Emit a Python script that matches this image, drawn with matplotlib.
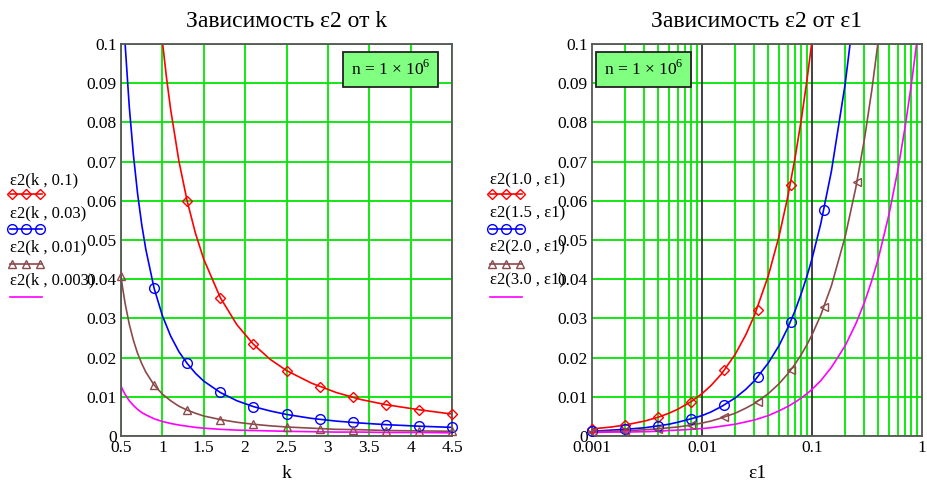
import matplotlib.pyplot as plt
from matplotlib.lines import Line2D
from matplotlib.ticker import FixedLocator, NullFormatter

plt.rcParams['font.family'] = ['Liberation Serif', 'DejaVu Serif']
plt.rcParams['mathtext.fontset'] = 'custom'
plt.rcParams['mathtext.rm'] = 'Liberation Serif'

# ---------- left panel: eps2 vs k ----------
k_red = [0.9, 0.95, 1.0, 1.05, 1.1, 1.2, 1.3, 1.4, 1.5, 1.7, 1.9, 2.1, 2.3, 2.5,
         2.8, 3.1, 3.4, 3.7, 4.1, 4.5]
e2_red = [0.1242, 0.1115, 0.1007, 0.0914, 0.0833, 0.0701, 0.0599, 0.0517, 0.0451,
          0.0353, 0.0284, 0.0234, 0.0196, 0.0167, 0.0135, 0.0111, 0.0093, 0.0080,
          0.0067, 0.0056]
k_all = [0.5, 0.52, 0.55, 0.6, 0.65, 0.7, 0.75, 0.8, 0.9, 1.0, 1.1, 1.2, 1.3, 1.4,
         1.5, 1.7, 1.9, 2.1, 2.3, 2.5, 2.8, 3.1, 3.4, 3.7, 4.1, 4.5]
e2_blue = [0.1207, 0.1116, 0.0999, 0.0840, 0.0717, 0.0619, 0.0540, 0.0476, 0.0377,
           0.0307, 0.0255, 0.0215, 0.0185, 0.0160, 0.0140, 0.0111, 0.0090, 0.0075,
           0.0064, 0.0055, 0.0045, 0.0038, 0.0033, 0.0029, 0.0025, 0.0022]
e2_brown = [0.0407, 0.0377, 0.0338, 0.0285, 0.0244, 0.0211, 0.0185, 0.0163, 0.0130,
            0.0107, 0.0090, 0.0076, 0.0066, 0.0058, 0.0051, 0.0042, 0.0035, 0.0030,
            0.0026, 0.0023, 0.0020, 0.0017, 0.0016, 0.0014, 0.0013, 0.0012]
e2_mag = [0.0127, 0.0118, 0.0106, 0.0090, 0.0078, 0.0068, 0.0060, 0.0054, 0.0044,
          0.0037, 0.0032, 0.0028, 0.0025, 0.0022, 0.0020, 0.0017, 0.0015, 0.0014,
          0.0013, 0.0012, 0.0011, 0.0010, 0.0010, 0.0009, 0.0009, 0.0008]

mk_k_red = [1.3, 1.7, 2.1, 2.5, 2.9, 3.3, 3.7, 4.1, 4.5]
mk_red = [0.0599, 0.0353, 0.0234, 0.0167, 0.0126, 0.0099, 0.0080, 0.0067, 0.0056]
mk_k_blue = [0.9, 1.3, 1.7, 2.1, 2.5, 2.9, 3.3, 3.7, 4.1, 4.5]
mk_blue = [0.0377, 0.0185, 0.0111, 0.0075, 0.0055, 0.0043, 0.0035, 0.0029, 0.0025, 0.0022]
mk_k_brown = [0.5, 0.9, 1.3, 1.7, 2.1, 2.5, 2.9, 3.3, 3.7, 4.1, 4.5]
mk_brown = [0.0407, 0.0130, 0.0066, 0.0042, 0.0030, 0.0023, 0.0019, 0.0016, 0.0014,
            0.0013, 0.0012]

# ---------- right panel: eps2 vs eps1 ----------
e1 = [0.001, 0.0015, 0.002, 0.003, 0.004, 0.005, 0.006, 0.008, 0.01, 0.012, 0.015,
      0.02, 0.025, 0.03, 0.04, 0.05, 0.06, 0.07, 0.08, 0.09, 0.1, 0.12, 0.15, 0.2,
      0.25, 0.3, 0.35, 0.4, 0.5, 0.6, 0.7, 0.8, 0.9, 1.0]
r_red = [0.0018, 0.0023, 0.0028, 0.0038, 0.0048, 0.0058, 0.0068, 0.0088, 0.0108,
         0.0128, 0.0158, 0.0208, 0.0258, 0.0308, 0.0408, 0.0508, 0.0608, 0.0708,
         0.0808, 0.0908, 0.1008]
r_blue = [0.0012, 0.0015, 0.0017, 0.0021, 0.0026, 0.0030, 0.0035, 0.0044, 0.0052,
          0.0061, 0.0075, 0.0097, 0.0119, 0.0141, 0.0186, 0.0230, 0.0275, 0.0319,
          0.0364, 0.0408, 0.0452, 0.0541, 0.0675, 0.0897, 0.1119]
r_brown = [0.0011, 0.0012, 0.0013, 0.0016, 0.0018, 0.0021, 0.0023, 0.0028, 0.0033,
           0.0038, 0.0046, 0.0058, 0.0071, 0.0083, 0.0108, 0.0133, 0.0158, 0.0183,
           0.0208, 0.0233, 0.0258, 0.0308, 0.0383, 0.0508, 0.0633, 0.0758, 0.0883,
           0.1008]
r_mag = [0.0009, 0.0010, 0.0010, 0.0011, 0.0012, 0.0014, 0.0015, 0.0017, 0.0019,
         0.0021, 0.0025, 0.0030, 0.0036, 0.0041, 0.0052, 0.0064, 0.0075, 0.0086,
         0.0097, 0.0108, 0.0119, 0.0141, 0.0175, 0.0230, 0.0286, 0.0341, 0.0397,
         0.0452, 0.0564, 0.0675, 0.0786, 0.0897, 0.1008, 0.1119]

mk_e1 = [0.001, 0.002, 0.004, 0.008, 0.016, 0.032, 0.064, 0.128, 0.256]
mk_r_red = [0.0018, 0.0028, 0.0048, 0.0088, 0.0168, 0.0322, 0.0640]
mk_r_blue = [0.0012, 0.0017, 0.0026, 0.0044, 0.0079, 0.0150, 0.0292, 0.0577]
mk_r_brown = [0.0011, 0.0013, 0.0018, 0.0028, 0.0048, 0.0088, 0.0168, 0.0328, 0.0648]

left_labels = ['ε2(k , 0.1)', 'ε2(k , 0.03)', 'ε2(k , 0.01)', 'ε2(k , 0.003)']
right_labels = ['ε2(1.0 , ε1)', 'ε2(1.5 , ε1)', 'ε2(2.0 , ε1)', 'ε2(3.0 , ε1)']

RED, BLUE, BROWN, MAG = '#ff0000', '#0000ff', '#8b4a4a', '#ff00ff'
GRID = '#00e600'
styles = [(RED, 'D', 5), (BLUE, 'o', 7), (BROWN, '^', 6), (MAG, None, 0)]

fig = plt.figure(figsize=(9.28, 4.91), dpi=100)
W, H = 928, 491


def ax_rect(x0, x1, y0, y1):
    return [x0 / W, 1 - y1 / H, (x1 - x0) / W, (y1 - y0) / H]


def marks(ax, x, y, c, m, s):
    ax.plot(x, y, ls='none', marker=m, ms=s, mfc='none', mec=c, mew=1.0,
            clip_on=False, zorder=4)


def legend(x, labels):
    ty = [180, 213, 247, 280]
    ly = [194, 229, 264, 297]
    for lab, t, l, (c, m, s) in zip(labels, ty, ly, styles):
        fig.text(x / W, 1 - t / H, lab, fontsize=12, ha='left', va='center')
        fig.add_artist(Line2D([x / W, (x + 32) / W], [1 - l / H] * 2, color=c, lw=1.2))
        if m:
            fig.add_artist(Line2D([(x + 2) / W, (x + 16) / W, (x + 30) / W], [1 - l / H] * 3,
                                  ls='none', marker=m, ms=s, mfc='none', mec=c, mew=1.0))


def nbox(ax, x, y):
    ax.text(x, y, r'n = 1 × 10$^{6}$', transform=ax.transAxes, fontsize=12.5,
            ha='left', va='top', zorder=6,
            bbox=dict(boxstyle='square,pad=0.45', fc='#80ff80', ec='#222222', lw=1.3))


def frame(ax):
    for s in ax.spines.values():
        s.set_color('#555555')
        s.set_linewidth(1.3)
    ax.tick_params(length=0, labelsize=12.5, pad=3)
    ax.set_ylim(0, 0.1)
    ax.set_yticks([i / 100 for i in range(11)])
    ax.set_yticklabels(['0'] + ['0.0%d' % i for i in range(1, 10)] + ['0.1'])


# left
ax1 = fig.add_axes(ax_rect(121, 452, 44, 436))
frame(ax1)
ax1.set_xlim(0.5, 4.5)
ax1.set_xticks([0.5, 1, 1.5, 2, 2.5, 3, 3.5, 4, 4.5])
ax1.set_xticklabels(['0.5', '1', '1.5', '2', '2.5', '3', '3.5', '4', '4.5'])
ax1.grid(True, color=GRID, lw=1.3)
ax1.set_axisbelow(True)
ax1.plot(k_red, e2_red, color=RED, lw=1.2)
ax1.plot(k_all, e2_blue, color=BLUE, lw=1.2)
ax1.plot(k_all, e2_brown, color=BROWN, lw=1.2)
ax1.plot(k_all, e2_mag, color=MAG, lw=1.2)
marks(ax1, mk_k_red, mk_red, RED, 'D', 5)
marks(ax1, mk_k_blue, mk_blue, BLUE, 'o', 7)
marks(ax1, mk_k_brown, mk_brown, BROWN, '^', 6)
ax1.set_title('Зависимость ε2 от k', fontsize=17, pad=12)
ax1.set_xlabel('k', fontsize=14, labelpad=6)
nbox(ax1, 0.695, 0.96)
legend(10, left_labels)

# right
ax2 = fig.add_axes(ax_rect(592, 922, 44, 436))
frame(ax2)
ax2.set_xscale('log')
ax2.set_xlim(0.001, 1)
ax2.set_xticks([0.001, 0.01, 0.1, 1])
ax2.set_xticklabels(['0.001', '0.01', '0.1', '1'])
ax2.xaxis.set_minor_locator(FixedLocator([m * d for d in (0.001, 0.01, 0.1) for m in range(2, 10)]))
ax2.xaxis.set_minor_formatter(NullFormatter())
ax2.tick_params(which='minor', length=0)
ax2.grid(True, which='minor', axis='x', color=GRID, lw=1.3)
ax2.grid(True, which='major', axis='y', color=GRID, lw=1.3)
for v in (0.01, 0.1):
    ax2.axvline(v, color='#333333', lw=1.3, zorder=1)
ax2.set_axisbelow(True)
ax2.plot(e1[:len(r_red)], r_red, color=RED, lw=1.2)
ax2.plot(e1[:len(r_blue)], r_blue, color=BLUE, lw=1.2)
ax2.plot(e1[:len(r_brown)], r_brown, color=BROWN, lw=1.2)
ax2.plot(e1[:len(r_mag)], r_mag, color=MAG, lw=1.2)
marks(ax2, mk_e1[:len(mk_r_red)], mk_r_red, RED, 'D', 5)
marks(ax2, mk_e1[:len(mk_r_blue)], mk_r_blue, BLUE, 'o', 7)
marks(ax2, mk_e1[:len(mk_r_brown)], mk_r_brown, BROWN, '<', 6)
ax2.set_title('Зависимость ε2 от ε1', fontsize=17, pad=12)
ax2.set_xlabel('ε1', fontsize=14, labelpad=6)
nbox(ax2, 0.035, 0.96)
legend(490, right_labels)

fig.savefig('out.png', dpi=100)
